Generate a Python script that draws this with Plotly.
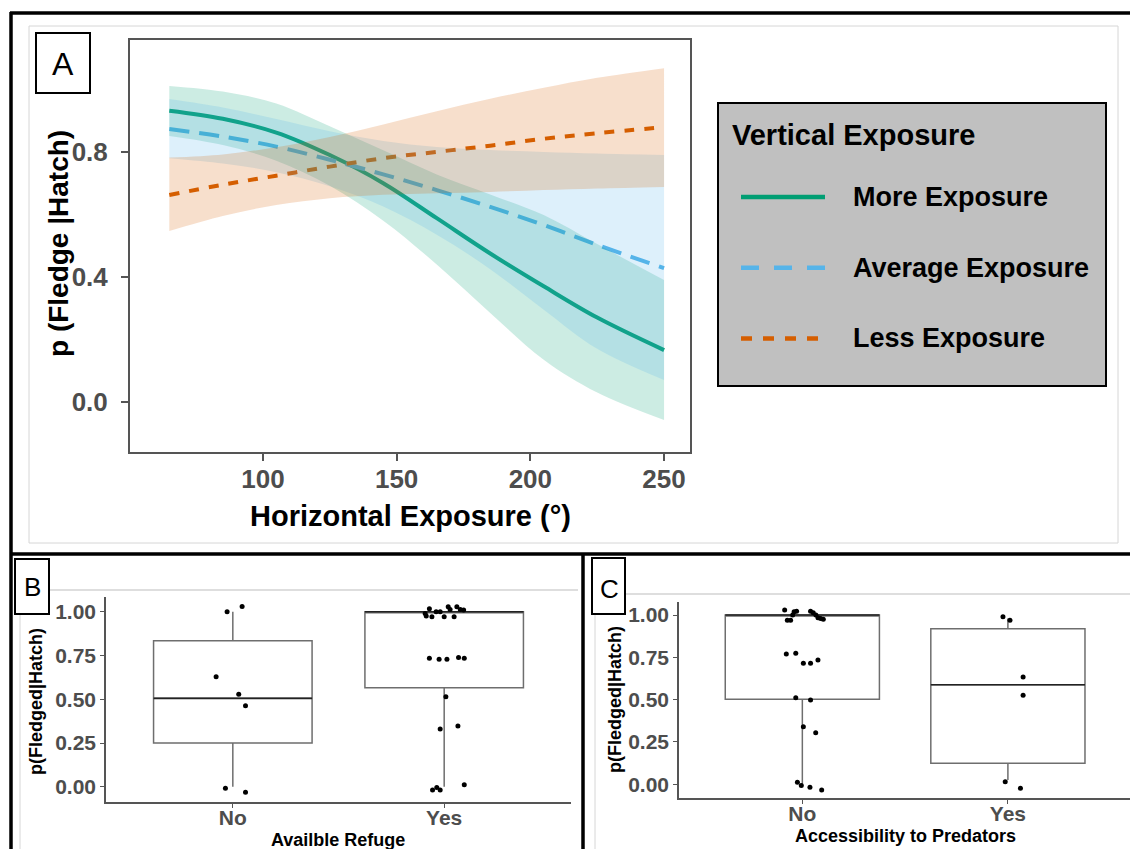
import plotly.graph_objects as go

W, H = 1130, 849

# ---------------- Panel A: fledging probability vs horizontal exposure ----------------
horiz_exposure = [65, 85, 105, 125, 145, 165, 185, 205, 225, 250]
series_names = ["More Exposure", "Average Exposure", "Less Exposure"]

more_fit = [0.932, 0.906, 0.862, 0.790, 0.700, 0.588, 0.475, 0.370, 0.270, 0.166]
more_lo = [0.851, 0.822, 0.772, 0.692, 0.580, 0.440, 0.285, 0.135, 0.030, -0.058]
more_hi = [1.011, 0.993, 0.955, 0.882, 0.805, 0.728, 0.664, 0.598, 0.505, 0.390]

avg_fit = [0.873, 0.849, 0.817, 0.775, 0.728, 0.678, 0.624, 0.566, 0.503, 0.428]
avg_lo = [0.780, 0.763, 0.735, 0.690, 0.625, 0.535, 0.425, 0.295, 0.170, 0.070]
avg_hi = [0.969, 0.942, 0.905, 0.866, 0.835, 0.816, 0.806, 0.800, 0.795, 0.790]

less_fit = [0.662, 0.695, 0.724, 0.753, 0.780, 0.800, 0.820, 0.842, 0.860, 0.879]
less_lo = [0.547, 0.595, 0.630, 0.652, 0.663, 0.668, 0.672, 0.678, 0.683, 0.688]
less_hi = [0.782, 0.792, 0.815, 0.848, 0.888, 0.930, 0.970, 1.005, 1.037, 1.068]

a_xticks = [100, 150, 200, 250]
a_yticks = [0.0, 0.4, 0.8]

# ---------------- Panel B: available refuge ----------------
refuge_cats = ["No", "Yes"]
refuge_q1 = [0.25, 0.566]
refuge_median = [0.505, 1.0]
refuge_q3 = [0.834, 1.0]
refuge_lofence = [0.0, 0.0]
refuge_hifence = [1.0, 1.0]

refuge_no_vals = [1.0, 1.03, 0.629, 0.528, 0.463, -0.009, -0.032]
refuge_no_jit = [-0.027, 0.044, -0.079, 0.028, 0.060, -0.035, 0.060]
refuge_yes_vals = [0.99, 0.975, 1.017, 0.971, 1.0, 1.0, 0.971, 1.029, 1.013, 0.971, 1.029, 1.013, 1.01,
                   0.734, 0.728, 0.728, 0.739, 0.734,
                   0.514, 0.33, 0.347, -0.019, -0.004, -0.019, 0.011]
refuge_yes_jit = [-0.090, -0.085, -0.070, -0.058, -0.038, -0.019, 0.0, 0.019, 0.028, 0.047, 0.060, 0.076, 0.092,
                  -0.070, -0.024, 0.013, 0.068, 0.095,
                  0.008, -0.019, 0.065, -0.055, -0.035, -0.019, 0.095]

# ---------------- Panel C: accessibility to predators ----------------
access_cats = ["No", "Yes"]
access_q1 = [0.502, 0.124]
access_median = [1.0, 0.588]
access_q3 = [1.0, 0.919]
access_lofence = [0.0, 0.025]
access_hifence = [1.0, 0.98]

access_no_vals = [1.03, 0.97, 0.97, 1.0, 1.02, 1.023, 1.023, 1.014, 1.0, 0.984, 0.98, 0.976,
                  0.77, 0.774, 0.715, 0.715, 0.734,
                  0.512, 0.498, 0.34, 0.305,
                  0.012, -0.008, -0.018, -0.034]
access_no_jit = [-0.086, -0.073, -0.057, -0.047, -0.040, -0.028, 0.040, 0.053, 0.066, 0.076, 0.089, 0.102,
                 -0.078, -0.032, 0.005, 0.040, 0.076,
                 -0.032, 0.040, 0.005, 0.065,
                 -0.024, -0.005, 0.037, 0.094]
access_yes_vals = [0.99, 0.969, 0.634, 0.526, 0.015, -0.024]
access_yes_jit = [-0.024, 0.010, 0.074, 0.074, -0.013, 0.061]

box_ticks = [0.0, 0.25, 0.5, 0.75, 1.0]

# ---------------- styling ----------------
FONT = "Liberation Sans"
TICK_GREY = "#4D4D4D"
AXIS_GREY = "#555555"
COLORS = ["#009E73", "#56B4E9", "#D55E00"]
FILLS = ["rgba(0,158,115,0.20)", "rgba(86,180,233,0.20)", "rgba(213,94,0,0.20)"]
DASHES = ["solid", "20px,10px", "10px,10px"]
LEGEND_DASHES = ["solid", "18px,15px", "11px,11px"]
BOX_WIDTH = 0.75
SMOOTH = dict(shape="spline", smoothing=1.0)


def px(x):
    return x / W


def py(y):
    return 1 - y / H


fig = go.Figure()

fits = [more_fit, avg_fit, less_fit]
lows = [more_lo, avg_lo, less_lo]
highs = [more_hi, avg_hi, less_hi]

# fitted lines first, ribbons drawn over them
for name, fit, col, dash in zip(series_names, fits, COLORS, DASHES):
    fig.add_trace(go.Scatter(
        x=horiz_exposure, y=fit, mode="lines", name=name,
        line=dict(color=col, width=4, dash=dash, **SMOOTH),
        xaxis="x", yaxis="y", showlegend=False, hoverinfo="skip"))

for lo, hi, fill in zip(lows, highs, FILLS):
    fig.add_trace(go.Scatter(
        x=horiz_exposure, y=lo, mode="lines",
        line=dict(width=0, **SMOOTH),
        xaxis="x", yaxis="y", showlegend=False, hoverinfo="skip"))
    fig.add_trace(go.Scatter(
        x=horiz_exposure, y=hi, mode="lines", fill="tonexty", fillcolor=fill,
        line=dict(width=0, **SMOOTH),
        xaxis="x", yaxis="y", showlegend=False, hoverinfo="skip"))


def add_box_panel(xa, ya, cats, q1, med, q3, lo, hi, groups):
    pos = list(range(1, len(cats) + 1))
    fig.add_trace(go.Box(
        x=pos, q1=q1, median=med, q3=q3, lowerfence=lo, upperfence=hi,
        width=BOX_WIDTH, whiskerwidth=0, fillcolor="white",
        line=dict(color="#6E6E6E", width=1.5), boxpoints=False,
        xaxis=xa, yaxis=ya, showlegend=False, hoverinfo="skip"))
    for p, m in zip(pos, med):
        fig.add_trace(go.Scatter(
            x=[p - BOX_WIDTH / 2, p + BOX_WIDTH / 2], y=[m, m], mode="lines",
            line=dict(color="#222222", width=1.6),
            xaxis=xa, yaxis=ya, showlegend=False, hoverinfo="skip"))
    for p, (vals, jit) in zip(pos, groups):
        fig.add_trace(go.Scatter(
            x=[p + j for j in jit], y=vals, mode="markers",
            marker=dict(color="black", size=5),
            xaxis=xa, yaxis=ya, showlegend=False, hoverinfo="skip"))


add_box_panel("x2", "y2", refuge_cats, refuge_q1, refuge_median, refuge_q3,
              refuge_lofence, refuge_hifence,
              [(refuge_no_vals, refuge_no_jit), (refuge_yes_vals, refuge_yes_jit)])
add_box_panel("x3", "y3", access_cats, access_q1, access_median, access_q3,
              access_lofence, access_hifence,
              [(access_no_vals, access_no_jit), (access_yes_vals, access_yes_jit)])

# ---------------- axes ----------------
a_tickfont = dict(family=FONT, size=26, color=TICK_GREY, weight="bold")
bc_tickfont = dict(family=FONT, size=21, color=TICK_GREY, weight="bold")

fig.update_layout(
    xaxis=dict(domain=[px(130), px(690)], range=[50.3, 259.7], anchor="y",
               tickvals=a_xticks, ticks="outside", ticklen=7, tickwidth=1.5,
               tickcolor=AXIS_GREY, showline=True, linecolor=AXIS_GREY, linewidth=2,
               mirror=True, showgrid=False, zeroline=False, tickfont=a_tickfont,
               ticklabelstandoff=-4),
    yaxis=dict(domain=[py(452), py(40)], range=[-0.16, 1.158], anchor="x",
               tickvals=a_yticks, tickformat=".1f", ticks="outside", ticklen=7,
               tickwidth=1.5, tickcolor=AXIS_GREY, showline=True, linecolor=AXIS_GREY,
               linewidth=2, mirror=True, showgrid=False, zeroline=False,
               tickfont=a_tickfont, ticklabelstandoff=8),
    xaxis2=dict(domain=[px(106), px(571)], range=[0.4, 2.6], anchor="y2",
                tickvals=[1, 2], ticktext=refuge_cats, ticks="outside", ticklen=4,
                tickcolor=AXIS_GREY, showline=True, linecolor=AXIS_GREY, linewidth=1.5,
                showgrid=False, zeroline=False, tickfont=bc_tickfont,
                ticklabelstandoff=-8),
    yaxis2=dict(domain=[py(802), py(597)], range=[-0.087, 1.084], anchor="x2",
                tickvals=box_ticks, tickformat=".2f", ticks="outside", ticklen=4,
                tickcolor=AXIS_GREY, showline=True, linecolor=AXIS_GREY, linewidth=1.5,
                showgrid=False, zeroline=False, tickfont=bc_tickfont),
    xaxis3=dict(domain=[px(679), 1.0], range=[0.4, 2.594], anchor="y3",
                tickvals=[1, 2], ticktext=access_cats, ticks="outside", ticklen=4,
                tickcolor=AXIS_GREY, showline=True, linecolor=AXIS_GREY, linewidth=1.5,
                showgrid=False, zeroline=False, tickfont=bc_tickfont,
                ticklabelstandoff=-8),
    yaxis3=dict(domain=[py(798.3), py(601.7)], range=[-0.083, 1.079], anchor="x3",
                tickvals=box_ticks, tickformat=".2f", ticks="outside", ticklen=4,
                tickcolor=AXIS_GREY, showline=True, linecolor=AXIS_GREY, linewidth=1.5,
                showgrid=False, zeroline=False, tickfont=bc_tickfont),
)

# ---------------- frames, separators and panel tags ----------------
shapes = []


def line(x0, y0, x1, y1, color, width, dash="solid"):
    shapes.append(dict(type="line", xref="paper", yref="paper",
                       x0=px(x0), y0=py(y0), x1=px(x1), y1=py(y1),
                       line=dict(color=color, width=width, dash=dash)))


def rect(x0, y0, x1, y1, color, width, fill="rgba(0,0,0,0)"):
    shapes.append(dict(type="rect", xref="paper", yref="paper",
                       x0=px(x0), y0=py(y1), x1=px(x1), y1=py(y0),
                       line=dict(color=color, width=width), fillcolor=fill))


LIGHT = "#D6D6D6"
rect(29, 26, 1118, 543, LIGHT, 1)
line(20, 590, 578, 590, "#BDBDBD", 1)
line(20, 590, 20, 849, LIGHT, 1)
line(595, 594, 1130, 594, "#BDBDBD", 1)
line(595, 614, 595, 849, LIGHT, 1)

line(10, 13, 1130, 13, "black", 3.5)
line(11, 12, 11, 849, "black", 3.5)
line(10, 554, 1130, 554, "black", 3.5)
line(583, 554, 583, 849, "black", 3.5)

rect(36, 33, 90, 93, "black", 2, "white")
rect(15, 559, 49, 614, "black", 2, "white")
rect(592, 558, 625, 614, "black", 2, "white")

annotations = []


def text(x, y, s, size, color="black", weight="normal", angle=0, xanchor="center"):
    annotations.append(dict(xref="paper", yref="paper", x=px(x), y=py(y), text=s,
                            showarrow=False, xanchor=xanchor, yanchor="middle",
                            textangle=angle,
                            font=dict(family=FONT, size=size, color=color, weight=weight)))


text(63, 64, "A", 32)
text(32, 587, "B", 26)
text(609, 589, "C", 26)

# axis titles
text(410, 516, "Horizontal Exposure (°)", 29, weight="bold")
text(58, 244, "p (Fledge |Hatch)", 28, weight="bold", angle=-90)
text(338, 840, "Availble Refuge", 18, weight="bold")
text(36, 702, "p(Fledged|Hatch)", 18, weight="bold", angle=-90)
text(905, 836, "Accessibility to Predators", 18, weight="bold")
text(615, 700, "p(Fledged|Hatch)", 18, weight="bold", angle=-90)

# legend for panel A
rect(718, 103, 1106, 386, "black", 2, "#C0C0C0")
text(730, 135, "Vertical Exposure", 29, weight="bold", xanchor="left")
legend_top, legend_step = 197, 70.7
for i, (name, col, dash) in enumerate(zip(series_names, COLORS, LEGEND_DASHES)):
    yy = legend_top + i * legend_step
    line(741, yy, 825, yy, col, 4.5, dash)
    text(851, yy, name, 27, weight="bold", xanchor="left")

fig.update_layout(
    width=W, height=H, margin=dict(l=0, r=0, t=0, b=0),
    paper_bgcolor="white", plot_bgcolor="white",
    shapes=shapes, annotations=annotations, showlegend=False,
)

fig.write_html("out.html")
